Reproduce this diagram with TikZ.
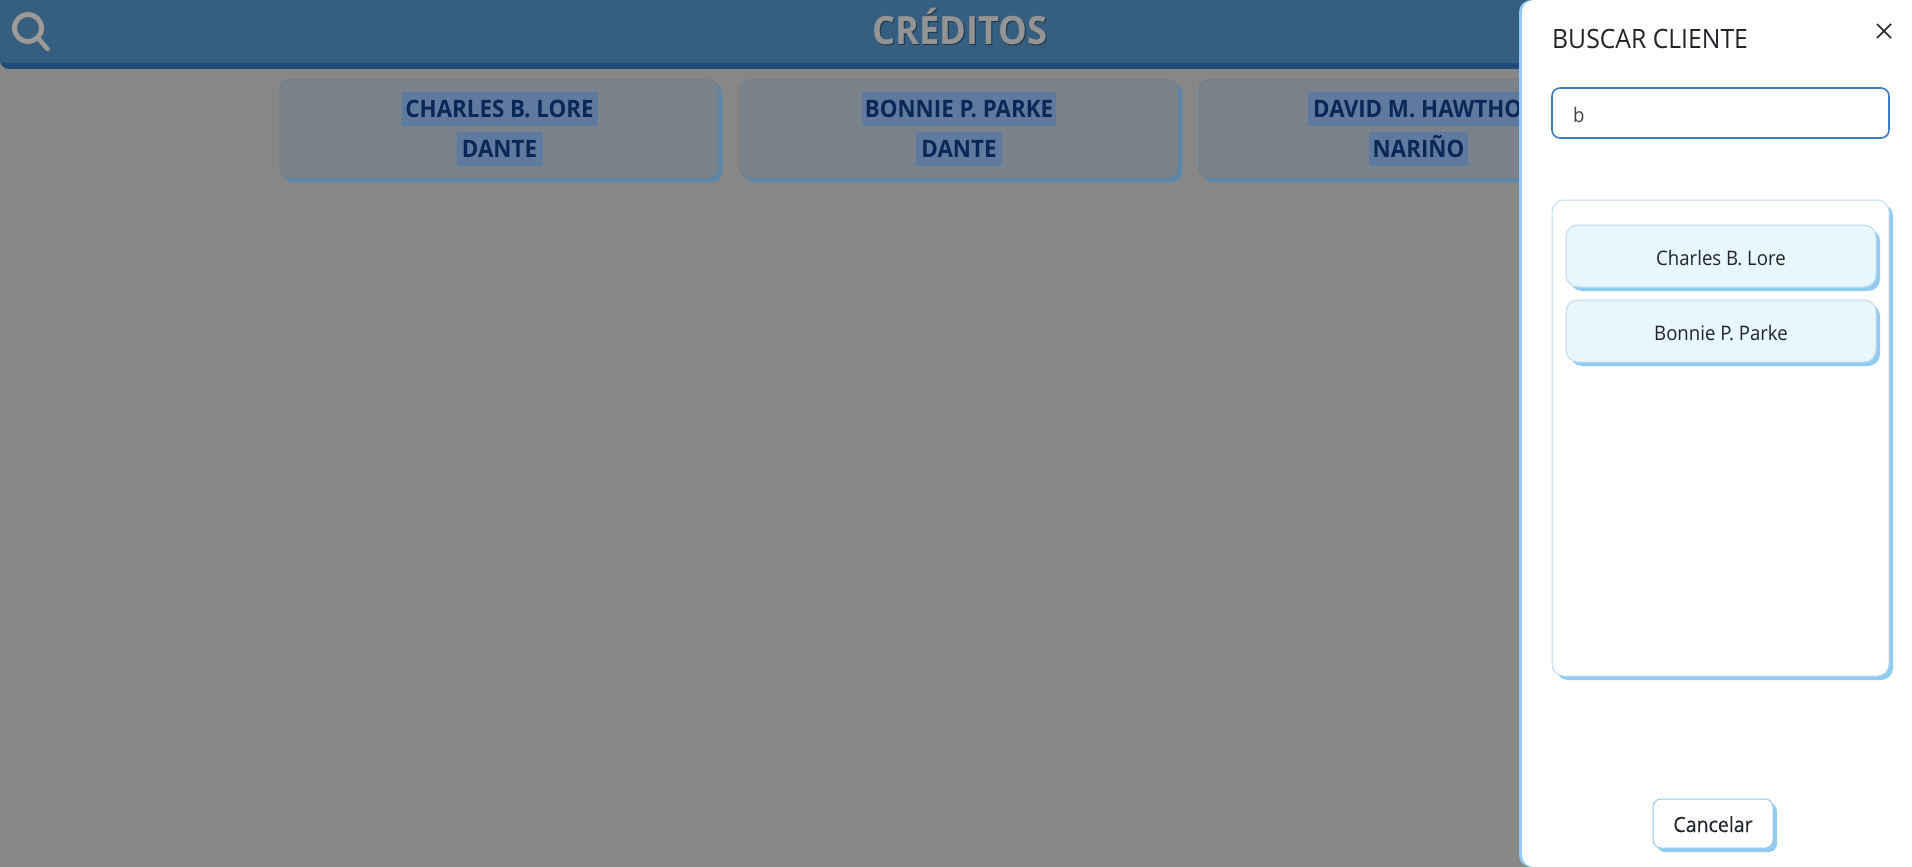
\documentclass[tikz,border=0pt]{standalone}
\usepackage{fontspec}
\usetikzlibrary{shadows}
\setmainfont{Open Sans}
\newfontfamily\uifont[FakeStretch=0.93]{Open Sans}
\newfontfamily\medfont[FakeStretch=0.93,FakeBold=0.25]{Open Sans}
\definecolor{bgc}{HTML}{878787}
\definecolor{headc}{HTML}{365E80}
\definecolor{bandc}{HTML}{1F4E7C}
\definecolor{cardf}{HTML}{7A838B}
\definecolor{cardb}{HTML}{6A818F}
\definecolor{cards}{HTML}{5C87AD}
\definecolor{labelf}{HTML}{5F7A9F}
\definecolor{labelt}{HTML}{0A2857}
\definecolor{lightb}{HTML}{92CBF1}
\definecolor{thinb}{HTML}{BEDDF0}
\definecolor{itemf}{HTML}{E8F6FE}
\definecolor{inputb}{HTML}{3F7DBE}
\definecolor{inkc}{HTML}{212529}
\definecolor{titlec}{HTML}{949494}
\tikzset{
  x=1pt,y=-1pt,
  cardbox/.style={draw=cardb,line width=1pt,fill=cardf,rounded corners=9pt,minimum width=438pt,minimum height=98pt,inner sep=0pt,
    general shadow={fill=cards,shadow xshift=4pt,shadow yshift=-4pt}},
  namelab/.style={fill=labelf,text=labelt,rounded corners=1pt,inner xsep=0pt,inner ysep=0pt,minimum height=34pt,text height=17pt,text depth=0pt,font=\uifont\bfseries\fontsize{24}{28}\selectfont},
  listbox/.style={draw=thinb,line width=1pt,fill=white,rounded corners=12pt,inner sep=0pt,
    general shadow={fill=lightb,shadow xshift=4pt,shadow yshift=-4pt}},
  itembox/.style={draw=thinb,line width=1pt,fill=itemf,rounded corners=12pt,minimum width=310pt,minimum height=62pt,inner sep=0pt,text=inkc,text height=18pt,text depth=0pt,font=\uifont\fontsize{20}{24}\selectfont,
    general shadow={fill=lightb,shadow xshift=4pt,shadow yshift=-4pt}},
  cancelbox/.style={draw=lightb,line width=1pt,fill=white,rounded corners=8pt,minimum width=120pt,minimum height=49pt,inner sep=0pt,text=inkc,text height=17pt,text depth=0pt,font=\medfont\fontsize{21}{24}\selectfont,
    general shadow={fill=lightb,shadow xshift=4pt,shadow yshift=-4pt}},
}
\begin{document}
\begin{tikzpicture}
\useasboundingbox (0,0) rectangle (1912,867);
\fill[bgc] (0,0) rectangle (1912,867);
% header
\fill[bandc] (0,0) [rounded corners=9pt]-- (0,69) [sharp corners]-- (1530,69) -- (1530,0) -- cycle;
\fill[headc] (0,0) [rounded corners=4pt]-- (0,63) [sharp corners]-- (1530,63) -- (1530,0) -- cycle;
% magnifier
\draw[titlec!110!headc,line width=5pt] (28,28) circle[radius=13.5];
\draw[titlec!110!headc,line width=4.5pt,line cap=round] (38,38) -- (47.5,49);
% title
\node[anchor=base,text=black!45!headc,inner sep=0pt,font=\uifont\bfseries\fontsize{39}{44}\selectfont] at (961,46) {CRÉDITOS};
\node (title) [anchor=base,text=titlec,inner sep=0pt,font=\uifont\bfseries\fontsize{39}{44}\selectfont] at (960,45) {CRÉDITOS};
% cards
\node (card1) [cardbox] at (499,129) {};
\node (card2) [cardbox] at (959,129) {};
\node (card3) [cardbox] at (1418,129) {};
\node (n1) [namelab,minimum width=196pt] at (499.5,109) {CHARLES B. LORE};
\node (c1) [namelab,minimum width=86pt] at (499.5,149) {DANTE};
\node (n2) [namelab,minimum width=194pt] at (959,109) {BONNIE P. PARKE};
\node (c2) [namelab,minimum width=86pt] at (959,149) {DANTE};
\node (n3) [namelab,anchor=west] at (1308,109) {\makebox[222pt][l]{\hspace{5pt}DAVID M. HAWTHO}};
\node (c3) [namelab,minimum width=99pt] at (1418.5,149) {NARIÑO};
% panel
\fill[lightb] (1912,0) -- (1533,0) [rounded corners=12pt]-- (1519,0) -- (1519,867) [sharp corners]-- (1912,867) -- cycle;
\fill[white] (1912,0) -- (1535,0) [rounded corners=12pt]-- (1522,0) -- (1522,867) [sharp corners]-- (1912,867) -- cycle;
\node (head) [anchor=base west,inner sep=0pt,text=inkc,font=\uifont\fontsize{26.6}{30}\selectfont] at (1552,49) {BUSCAR CLIENTE};
\draw[inkc,line width=1.5pt] (1877,24) coordinate (xa) -- (1891,38) coordinate (xb);
\draw[inkc,line width=1.5pt] (1891,24) coordinate (xc) -- (1877,38) coordinate (xd);
\node (search) [draw=inputb,line width=1.6pt,rounded corners=8pt,fill=white,minimum width=337pt,minimum height=50pt,inner sep=0pt] at (1720.5,113) {};
\node (typed) [anchor=base west,inner sep=0pt,text=inkc!85,font=\uifont\fontsize{20}{24}\selectfont] at (1573,122) {b};
\node (list) [listbox,minimum width=337pt,minimum height=476pt] at (1720.5,438) {};
\node (i1) [itembox] at (1721,256) {Charles B. Lore};
\node (i2) [itembox] at (1721,331) {Bonnie P. Parke};
\node (cancel) [cancelbox] at (1713,823.5) {Cancelar};
\end{tikzpicture}
\end{document}
